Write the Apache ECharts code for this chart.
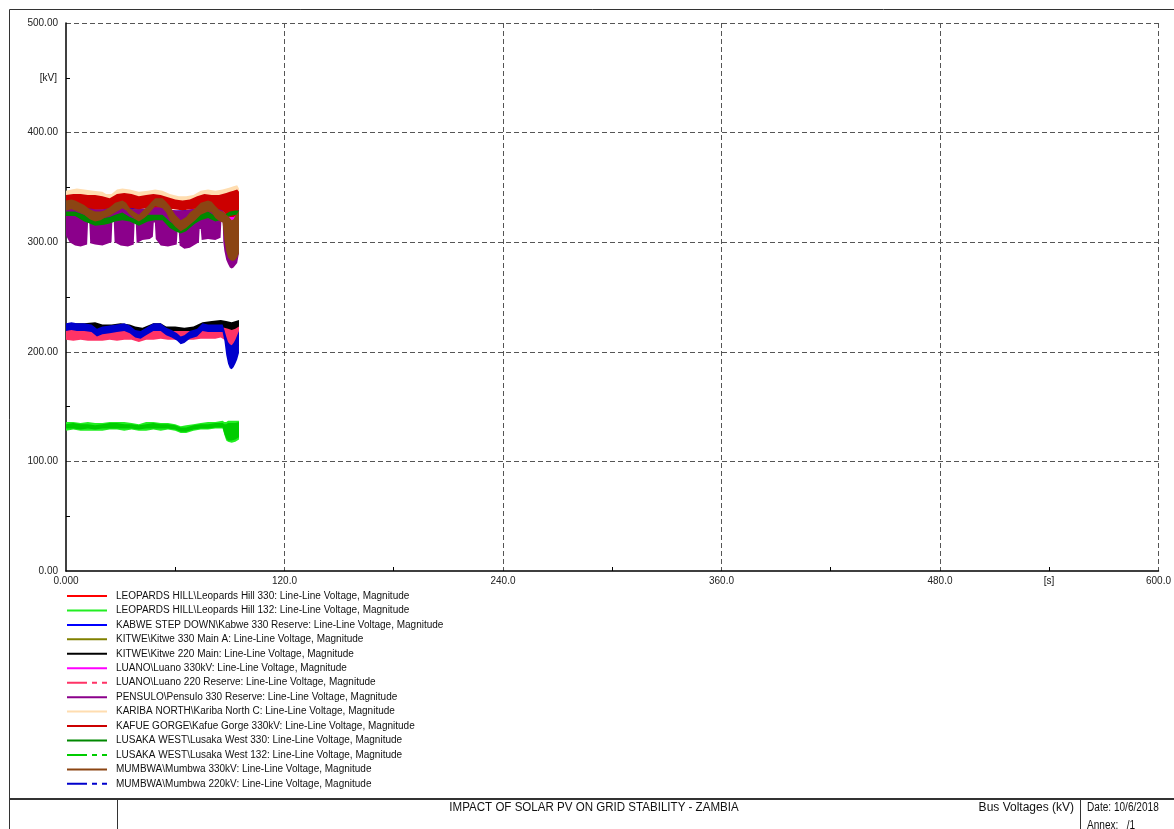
<!DOCTYPE html>
<html>
<head>
<meta charset="utf-8">
<script src="https://cdn.jsdelivr.net/npm/echarts@6/dist/echarts.min.js"></script>
<style>
  html, body { margin: 0; padding: 0; background: #fff; }
  #chart { width: 1174px; height: 829px; }
</style>
</head>
<body>
<div id="chart"></div>
<script>
// Each trace is a list of [time s, lower envelope kV, upper envelope kV]
const leopardsHill330 = [[0,331,337],[30,332,338],[60,330,335],[86,331,337],[90,325,336],[95,330,338]];
const leopardsHill132 = [[0,128,136],[4,129,136],[8,128,135],[12,128,136],[16,128,135],[20,128,135],[24,129,136],[28,129,136],[32,128,136],[36,129,135],[40,128,134],[44,128,136],[48,129,136],[52,128,135],[56,129,135],[60,128,134],[63,126,132],[66,126,133],[70,128,134],[74,129,135],[78,129,136],[82,130,136],[86,130,137],[87,124,136],[88,119,136],[89,118,137],[91,117,137],[93,118,137],[95,120,137]];
const kabwe330 = [[0,325,331],[30,326,332],[60,323,329],[86,325,331],[90,318,326],[95,322,330]];
const kitwe330 = [[0,324,330],[30,325,331],[60,322,328],[86,324,330],[90,316,326],[95,320,328]];
const kitwe220 = [[0,218,225],[5,219,226],[10,219,226],[16,219,227],[20,218,225],[25,218,225],[30,219,226],[35,218,225],[38,217,223],[42,216,222],[48,219,226],[52,219,226],[55,217,223],[60,216,223],[65,216,222],[70,217,223],[75,220,227],[80,221,228],[85,222,229],[88,220,228],[91,219,227],[95,221,229]];
const luano330 = [[0,323,329],[30,324,330],[60,321,327],[86,323,329],[90,314,324],[95,319,327]];
const luano220 = [[0,211,221],[4,210,220],[8,211,221],[12,210,220],[16,210,219],[20,210,219],[24,211,220],[28,210,220],[32,211,221],[36,211,220],[40,209,217],[44,211,219],[48,211,220],[52,212,220],[56,211,219],[60,211,219],[63,211,219],[66,211,219],[70,211,219],[74,212,220],[78,212,221],[82,212,221],[85,213,222],[87,211,222],[89,205,221],[91,203,220],[93,205,221],[95,208,223]];
const pensulo330 = [[0,306,331],[2,300,331],[5,297,331],[8,296,331],[11.6,298,331],[12.1,318,331],[12.8,318,331],[13.3,299,331],[16,298,330],[20,297,330],[25.0,300,331],[25.5,320,331],[26.2,320,331],[26.7,300,332],[30,297,332],[34,296,331],[37.2,298,330],[37.7,318,330],[38.3,318,330],[38.8,299,330],[42,302,330],[46,303,331],[47.7,305,332],[48.2,318,332],[48.8,318,332],[49.3,303,332],[52,297,332],[56,296,330],[60.8,298,329],[61.3,310,329],[61.9,310,329],[62.4,297,329],[65,294,329],[68,295,330],[73.0,300,331],[73.4,312,331],[74.0,312,331],[74.5,302,331],[78,303,332],[82,302,331],[84.9,304,330],[85.4,322,330],[86.0,322,330],[86.4,300,329],[87,292,324],[88,284,318],[89,280,312],[90,277,306],[91,276,304],[92,277,304],[93,279,306],[94,281,312],[95,290,320]];
const karibaNorth = [[0,337,347],[3,338,348],[6,339,349],[10,338,348],[15,337,347],[20,336,346],[22,334,344],[25,334,344],[28,338,348],[31,339,349],[35,338,348],[40,336,346],[45,337,347],[49,338,348],[53,337,347],[57,334,344],[62,332,342],[66,332,342],[70,333,343],[74,337,347],[78,338,348],[82,337,347],[86,338,348],[88,338,349],[90,337,350],[92,338,351],[94,339,352],[95,338,349]];
const kafueGorge330 = [[0,331,343],[4,332,344],[8,331,344],[12,331,343],[16,330,343],[20,330,342],[24,331,340],[28,332,344],[32,332,345],[36,331,344],[40,330,342],[44,331,343],[48,332,344],[52,333,343],[56,331,341],[60,330,339],[64,329,338],[68,330,339],[72,331,342],[76,332,344],[80,331,343],[84,330,343],[86,329,344],[88,325,345],[90,323,346],[92,323,347],[94,325,348],[95,330,346]];
const lusakaWest330 = [[0,324,328],[5,324,328],[10,319,325],[13,317,322],[16,315,320],[21,316,322],[24,317,323],[27,319,325],[31,320,327],[35,319,323],[40,315,320],[45,319,325],[49,320,325],[53,320,325],[57,313,319],[60,310,316],[63,308,315],[66,310,317],[68,313,319],[71,317,323],[74,320,327],[78,322,328],[82,319,324],[84.5,320,324],[87,321,325],[90,324,328],[93,325,329],[95,324,329]];
const lusakaWest132 = [[0,130,134],[4,130,135],[8,129,134],[12,130,134],[16,129,133],[20,130,134],[24,130,135],[28,130,135],[32,130,134],[36,130,134],[40,129,133],[44,130,134],[48,130,135],[52,130,134],[56,130,134],[60,129,133],[63,127,131],[66,127,131],[70,129,133],[74,130,134],[78,130,134],[82,131,135],[86,131,135],[87,125,134],[88,121,134],[89,119,135],[91,119,135],[93,120,135],[95,122,136]];
const mumbwa330 = [[0,329,338],[3,330,339],[5,329,338],[10,325,334],[13,321,330],[16,319,328],[19,320,328],[21,322,329],[24,324,332],[27,327,336],[31,331,338],[33,329,336],[35,325,331],[38,321,327],[40,319,325],[43,322,330],[45,325,333],[47,329,337],[49,333,340],[53,331,340],[55,327,337],[57,320,333],[60,314,325],[63,310,320],[66,313,323],[68,316,327],[71,320,331],[74,325,336],[78,328,338],[80,327,337],[82,322,333],[84.5,319,329],[86,318,328],[87,302,327],[88,292,325],[89,286,324],[90,284,322],[91,283,320],[92,283,321],[93,284,324],[94,286,326],[95,290,329]];
const mumbwa220 = [[0,219,226],[3,220,227],[6,219,226],[10,219,226],[14,218,225],[17,214,221],[20,216,223],[24,217,224],[28,218,225],[32,219,226],[35,217,224],[38,213,220],[41,212,219],[44,215,222],[48,219,226],[52,219,226],[55,215,222],[58,213,220],[61,210,217],[63,207,214],[65,208,215],[68,212,219],[72,214,221],[75,219,226],[78,218,225],[82,218,225],[86,218,225],[87,210,220],[88,197,214],[89,189,209],[90,185,207],[91,184,206],[92,186,208],[93,189,211],[94,193,215],[95,199,219]];

const xTickLabels = ['0.000', '120.0', '240.0', '360.0', '480.0', '600.0'];
const yTickLabels = ['0.00', '100.00', '200.00', '300.00', '400.00', '500.00'];

const DASHED = [20, 5, 5, 5, 5, 5];
const traces = [
  { name: 'LEOPARDS HILL\\Leopards Hill 330: Line-Line Voltage, Magnitude', color: '#FF0000', rows: leopardsHill330 },
  { name: 'LEOPARDS HILL\\Leopards Hill 132: Line-Line Voltage, Magnitude', color: '#22EE22', rows: leopardsHill132 },
  { name: 'KABWE STEP DOWN\\Kabwe 330 Reserve: Line-Line Voltage, Magnitude', color: '#0000FF', rows: kabwe330 },
  { name: 'KITWE\\Kitwe 330 Main A: Line-Line Voltage, Magnitude', color: '#808000', rows: kitwe330 },
  { name: 'KITWE\\Kitwe 220 Main: Line-Line Voltage, Magnitude', color: '#000000', rows: kitwe220 },
  { name: 'LUANO\\Luano 330kV: Line-Line Voltage, Magnitude', color: '#FF00FF', rows: luano330 },
  { name: 'LUANO\\Luano 220 Reserve: Line-Line Voltage, Magnitude', color: '#FF3366', dashed: true, rows: luano220 },
  { name: 'PENSULO\\Pensulo 330 Reserve: Line-Line Voltage, Magnitude', color: '#8B008B', rows: pensulo330 },
  { name: 'KARIBA NORTH\\Kariba North C: Line-Line Voltage, Magnitude', color: '#FFDDB0', rows: karibaNorth },
  { name: 'KAFUE GORGE\\Kafue Gorge 330kV: Line-Line Voltage, Magnitude', color: '#CC0000', rows: kafueGorge330 },
  { name: 'LUSAKA WEST\\Lusaka West 330: Line-Line Voltage, Magnitude', color: '#008800', rows: lusakaWest330 },
  { name: 'LUSAKA WEST\\Lusaka West 132: Line-Line Voltage, Magnitude', color: '#00CC00', dashed: true, rows: lusakaWest132 },
  { name: 'MUMBWA\\Mumbwa 330kV: Line-Line Voltage, Magnitude', color: '#8B4513', rows: mumbwa330 },
  { name: 'MUMBWA\\Mumbwa 220kV: Line-Line Voltage, Magnitude', color: '#0000CC', dashed: true, rows: mumbwa220 }
];

const FONT = '"Liberation Sans", Arial, sans-serif';
const series = [];

// Oscillating traces are drawn as filled envelopes between the lower and upper values
traces.forEach((tr, i) => {
  series.push({
    type: 'custom', name: 'env' + i, silent: true, animation: false,
    clip: true,
    data: tr.rows,
    encode: { x: 0, y: [1, 2] },
    renderItem: (params, api) => {
      if (params.dataIndex !== 0) return null;
      const upper = tr.rows.map(r => api.coord([r[0], r[2]]));
      const lower = tr.rows.map(r => api.coord([r[0], r[1]])).reverse();
      return {
        type: 'polygon',
        shape: { points: upper.concat(lower) },
        style: { fill: tr.color, stroke: null }
      };
    }
  });
});

// Legend entries
traces.forEach(tr => {
  series.push({
    type: 'line', name: tr.name, data: [], symbol: 'none', showSymbol: false, color: tr.color,
    lineStyle: { color: tr.color, width: 3, type: tr.dashed ? DASHED : 'solid' }
  });
});

const chart = echarts.init(document.getElementById('chart'), null, { renderer: 'canvas' });

const txt = (text, x, y, align, size, extra) => Object.assign({
  type: 'text', x: x, y: y, silent: true, z: 100,
  style: {
    text: text, x: 0, y: 0, fill: '#111',
    font: size + 'px ' + FONT,
    align: align, textAlign: align, verticalAlign: 'middle', textVerticalAlign: 'middle'
  }
}, extra || {});

chart.setOption({
  animation: false,
  backgroundColor: '#fff',
  grid: { left: 66, right: 15, top: 23, bottom: 258, containLabel: false },
  xAxis: {
    type: 'value', min: 0, max: 600, interval: 120,
    axisLine: { show: true, onZero: false, lineStyle: { color: '#000', width: 1.5 } },
    axisTick: { show: false, inside: true },
    minorTick: { show: true, splitNumber: 2, length: 4, lineStyle: { color: '#000', width: 1 } },
    axisLabel: {
      margin: 5, fontSize: 10, fontFamily: FONT, color: '#222',
      formatter: v => xTickLabels[Math.round(v / 120)]
    },
    splitLine: { show: true, showMinLine: false, lineStyle: { color: '#555', width: 1, type: [5, 3] } }
  },
  yAxis: {
    type: 'value', min: 0, max: 500, interval: 100,
    axisLine: { show: true, lineStyle: { color: '#000', width: 1.5 } },
    axisTick: { show: false, inside: true },
    minorTick: { show: true, splitNumber: 2, length: 4, lineStyle: { color: '#000', width: 1 } },
    axisLabel: {
      margin: 8, fontSize: 10, fontFamily: FONT, color: '#222',
      formatter: v => yTickLabels[Math.round(v / 100)]
    },
    splitLine: { show: true, showMinLine: false, lineStyle: { color: '#555', width: 1, type: [5, 3] } }
  },
  legend: {
    orient: 'vertical', left: 66, top: 590, padding: 0,
    itemWidth: 40, itemHeight: 10, itemGap: 2.45,
    selectedMode: false,
    itemStyle: { opacity: 0 },
    textStyle: { fontSize: 10, fontFamily: FONT, color: '#111', lineHeight: 12, padding: [0, 0, 0, 4] },
    data: traces.map(t => t.name)
  },
  graphic: [
    { type: 'rect', silent: true, z: 90, shape: { x: 9.5, y: 9.5, width: 1180, height: 840 },
      style: { fill: null, stroke: '#333', lineWidth: 1 } },
    { type: 'line', silent: true, z: 90, shape: { x1: 9, y1: 799, x2: 1180, y2: 799 },
      style: { stroke: '#333', lineWidth: 2 } },
    { type: 'line', silent: true, z: 90, shape: { x1: 117.5, y1: 799, x2: 117.5, y2: 840 },
      style: { stroke: '#333', lineWidth: 1 } },
    { type: 'line', silent: true, z: 90, shape: { x1: 1080.5, y1: 799, x2: 1080.5, y2: 840 },
      style: { stroke: '#333', lineWidth: 1 } },
    txt('[kV]', 57, 78, 'right', 10),
    txt('[s]', 1049, 581, 'center', 10),
    txt('IMPACT OF SOLAR PV ON GRID STABILITY - ZAMBIA', 594, 808, 'center', 12.5, { scaleX: 0.925 }),
    txt('Bus Voltages (kV)', 1074, 808, 'right', 12),
    txt('Date: 10/6/2018', 1087, 808, 'left', 12, { scaleX: 0.84 }),
    txt('Annex:   /1', 1087, 826, 'left', 12, { scaleX: 0.84 })
  ],
  series: series
});
</script>
</body>
</html>
